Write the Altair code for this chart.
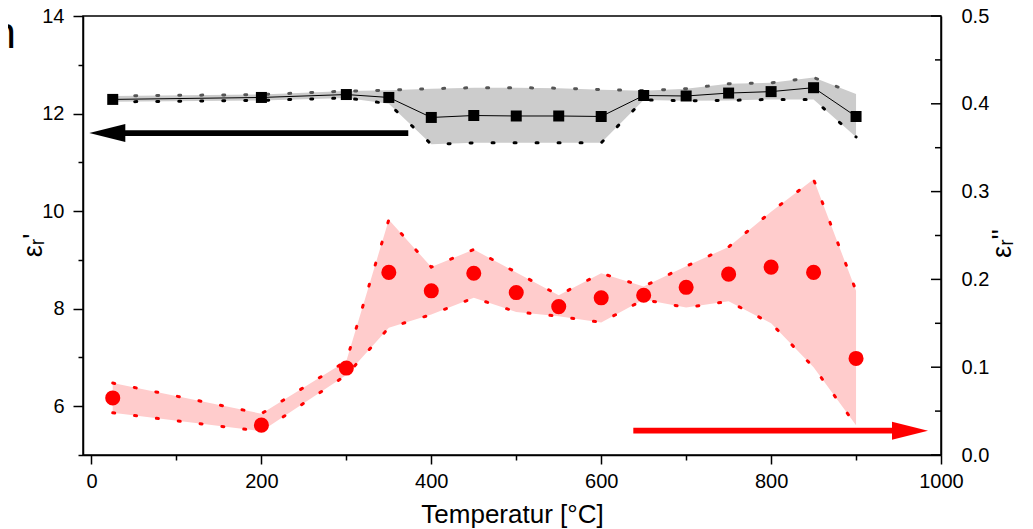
import altair as alt
import pandas as pd

# ---- data ----
temps = [25, 200, 300, 350, 400, 450, 500, 550, 600, 650, 700, 750, 800, 850, 900]

eps_real = [12.29, 12.33, 12.39, 12.33, 11.92, 11.96, 11.95, 11.95, 11.94, 12.37, 12.36, 12.42, 12.45, 12.53, 11.94]
eps_real_hi = [12.36, 12.39, 12.46, 12.48, 12.51, 12.53, 12.53, 12.52, 12.49, 12.47, 12.51, 12.61, 12.63, 12.74, 12.40]
eps_real_lo = [12.24, 12.27, 12.32, 12.20, 11.37, 11.40, 11.40, 11.40, 11.40, 12.28, 12.26, 12.27, 12.29, 12.29, 11.52]

eps_imag = [0.065, 0.034, 0.099, 0.208, 0.187, 0.207, 0.185, 0.169, 0.179, 0.182, 0.191, 0.206, 0.214, 0.208, 0.110]
eps_imag_hi = [0.082, 0.047, 0.107, 0.268, 0.214, 0.234, 0.208, 0.182, 0.207, 0.192, 0.215, 0.237, 0.277, 0.314, 0.187]
eps_imag_lo = [0.048, 0.027, 0.091, 0.145, 0.160, 0.179, 0.163, 0.158, 0.151, 0.177, 0.168, 0.175, 0.150, 0.100, 0.034]

# arrows (annotation): tail, head base, tip, level
arrow_left = {"tail": [372.9], "base": [39.4], "tip": [-2.6], "y": [11.60]}
arrow_right = {"tail": [637.8], "base": [943.5], "tip": [984.7], "y": [0.0277]}

x_ticks = list(range(0, 1001, 100))
yl_ticks = list(range(5, 15))
yr_major = [0.0, 0.1, 0.2, 0.3, 0.4, 0.5]
yr_minor = [0.05, 0.15, 0.25, 0.35, 0.45]
panel_label = ["h"]

x_title = "Temperatur [°C]"
yl_title = "εᵣ'"
yr_title = "εᵣ''"

# ---- build tables ----
df = pd.DataFrame({
    "T": temps,
    "e1": eps_real, "e1_hi": eps_real_hi, "e1_lo": eps_real_lo,
    "e2": eps_imag, "e2_hi": eps_imag_hi, "e2_lo": eps_imag_lo,
})
arrL = pd.DataFrame(arrow_left)
arrR = pd.DataFrame(arrow_right)
rmaj = pd.DataFrame({"v": yr_major})
rmin = pd.DataFrame({"v": yr_minor})

FONT = "Liberation Sans"
W, H = 858, 439

x_scale = alt.Scale(domain=[-10, 1000], nice=False, zero=False)
yl_scale = alt.Scale(domain=[5, 14], nice=False, zero=False)
yr_scale = alt.Scale(domain=[0, 0.5], nice=False, zero=False)

x_axis = alt.Axis(
    values=x_ticks, format="d",
    labelExpr="datum.value % 200 === 0 ? datum.label : ''",
    tickSize={"condition": {"test": "datum.value % 200 === 0", "value": 9}, "value": 5},
    labelPadding=7, labelFontSize=20,
    titleFontSize=26, titleY=67, titleBaseline="alphabetic",
)
yl_axis = alt.Axis(
    values=yl_ticks, format="d", orient="left",
    labelExpr="datum.value % 2 === 0 ? datum.label : ''",
    tickSize={"condition": {"test": "datum.value % 2 === 0", "value": 10}, "value": 5},
    labelPadding=9, labelFontSize=20,
    titleFontSize=27, titleAngle=270, titleX=-50, titleY=229,
    titleAlign="center", titleBaseline="middle",
)
yr_axis = alt.Axis(
    values=yr_major, format=".1f", orient="right",
    ticks=False, tickSize=0, labelPadding=20, labelFontSize=20,
    titleFontSize=27, titleAngle=270, titleX=61, titleY=227,
    titleAlign="center", titleBaseline="middle",
)

X = alt.X("T:Q", scale=x_scale, axis=x_axis, title=x_title)


def YL(field):
    return alt.Y(f"{field}:Q", scale=yl_scale, axis=yl_axis, title=yl_title)


def YR(field):
    return alt.Y(f"{field}:Q", scale=yr_scale, axis=yr_axis, title=yr_title)


dot = dict(strokeDash=[2, 20], strokeWidth=3, strokeCap="round")

base = alt.Chart(df)

# ---- black (left axis) ----
b_area = base.mark_area(color="#cccccc", opacity=1).encode(x=X, y=YL("e1_lo"), y2="e1_hi:Q")
b_hi = base.mark_line(color="#555555", **dot).encode(x=X, y=YL("e1_hi"))
b_lo = base.mark_line(color="#000000", **dot).encode(x=X, y=YL("e1_lo"))
b_line = base.mark_line(color="#000000", strokeWidth=1).encode(x=X, y=YL("e1"))
b_pts = base.mark_point(shape="square", filled=True, size=121, color="#000000", opacity=1).encode(x=X, y=YL("e1"))

aL = alt.Chart(arrL)
b_shaft = aL.mark_rule(color="#000000", strokeWidth=5.7).encode(
    x=alt.X("tail:Q", scale=x_scale, axis=x_axis, title=x_title), x2="base:Q", y=YL("y"))
b_head = aL.mark_point(shape="M 0 0 L 2 -0.5 L 2 0.5 Z", size=1296, filled=True,
                       color="#000000", opacity=1, strokeWidth=0).encode(
    x=alt.X("tip:Q", scale=x_scale, axis=x_axis, title=x_title), y=YL("y"))

black = alt.layer(b_area, b_hi, b_lo, b_line, b_pts, b_shaft, b_head)

# ---- red (right axis) ----
r_area = base.mark_area(color="#ffcccc", opacity=1).encode(x=X, y=YR("e2_lo"), y2="e2_hi:Q")
r_hi = base.mark_line(color="#ff0000", **dot).encode(x=X, y=YR("e2_hi"))
r_lo = base.mark_line(color="#ff0000", **dot).encode(x=X, y=YR("e2_lo"))
r_pts = base.mark_circle(size=227, color="#ff0000", opacity=1).encode(x=X, y=YR("e2"))

aR = alt.Chart(arrR)
r_shaft = aR.mark_rule(color="#ff0000", strokeWidth=5.7).encode(
    x=alt.X("tail:Q", scale=x_scale, axis=x_axis, title=x_title), x2="base:Q", y=YR("y"))
r_head = aR.mark_point(shape="M 0 0 L -2 -0.5 L -2 0.5 Z", size=1296, filled=True,
                       color="#ff0000", opacity=1, strokeWidth=0).encode(
    x=alt.X("tip:Q", scale=x_scale, axis=x_axis, title=x_title), y=YR("y"))

# inward ticks of the right axis
r_tmaj = alt.Chart(rmaj).mark_rule(color="#000000", strokeWidth=1.5, x2Offset=-10).encode(
    x=alt.datum(1000), x2=alt.datum(1000), y=YR("v"))
r_tmin = alt.Chart(rmin).mark_rule(color="#000000", strokeWidth=1.5, x2Offset=-6).encode(
    x=alt.datum(1000), x2=alt.datum(1000), y=YR("v"))

red = alt.layer(r_area, r_hi, r_lo, r_pts, r_shaft, r_head, r_tmaj, r_tmin)

# ---- panel letter (cut at the left edge, as in the reference) ----
label = alt.Chart(pd.DataFrame({"t": panel_label})).mark_text(
    font=FONT, fontSize=44, align="right", baseline="alphabetic", color="#000000"
).encode(text="t:N", x=alt.value(-67), y=alt.value(32))

chart = (
    alt.layer(black, red, label)
    .resolve_scale(y="independent")
    .properties(
        width=W, height=H,
        autosize=alt.AutoSizeParams(type="none"),
        padding={"left": 75, "top": 8, "right": 80, "bottom": 74},
        background="white",
    )
    .configure_view(stroke="#000000", strokeWidth=1.5)
    .configure_axis(
        labelFont=FONT, titleFont=FONT, labelColor="#000000", titleColor="#000000",
        titleFontWeight="normal", domainColor="#000000", domainWidth=1.5,
        tickColor="#000000", tickWidth=1.5, grid=False, labelFlush=False,
    )
)

chart.save("out.html", embed_options={"renderer": "svg", "actions": False})
